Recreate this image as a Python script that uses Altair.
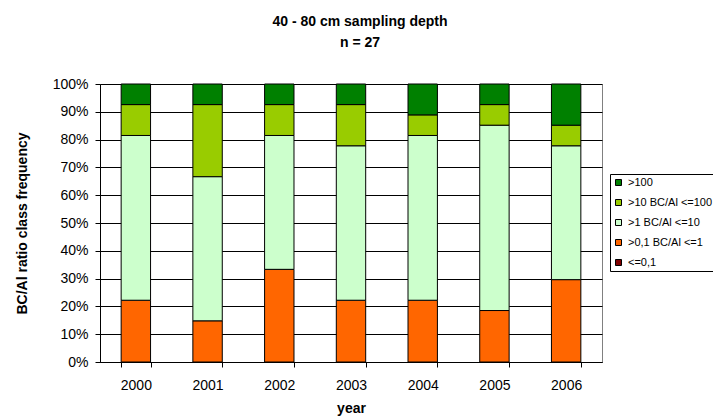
import altair as alt
import pandas as pd

years = ["2000", "2001", "2002", "2003", "2004", "2005", "2006"]
classes = ["<=0,1", ">0,1 BC/Al <=1", ">1 BC/Al <=10", ">10 BC/Al <=100", ">100"]
class_colors = ["#800000", "#FF6600", "#CCFFCC", "#99CC00", "#008000"]

# number of sites (n = 27) per class and year
n_le_0_1 = [0, 0, 0, 0, 0, 0, 0]
n_0_1_to_1 = [6, 4, 9, 6, 6, 5, 8]
n_1_to_10 = [16, 14, 13, 15, 16, 18, 13]
n_10_to_100 = [3, 7, 3, 4, 2, 2, 2]
n_gt_100 = [2, 2, 2, 2, 3, 2, 4]

series = [n_le_0_1, n_0_1_to_1, n_1_to_10, n_10_to_100, n_gt_100]
rows = []
for ci, (cls, vals) in enumerate(zip(classes, series)):
    for y, v in zip(years, vals):
        if v > 0:
            rows.append({"year": y, "cls": cls, "idx": ci, "count": v})
df = pd.DataFrame(rows)

legend_order = classes[::-1]
legend_colors = class_colors[::-1]

FONT = "Liberation Sans"

chart = alt.Chart(df).mark_bar(stroke="black", strokeWidth=1).encode(
    x=alt.X(
        "year:N",
        title="year",
        sort=years,
        scale=alt.Scale(paddingInner=0.59, paddingOuter=0.295),
        axis=alt.Axis(
            labelAngle=0, tickBand="extent", grid=False, tickSize=5,
            labelPadding=22, labelBaseline="alphabetic", labelFontSize=14,
            titleY=50, titleBaseline="alphabetic",
        ),
    ),
    y=alt.Y(
        "count:Q",
        stack="normalize",
        title="BC/Al ratio class frequency",
        scale=alt.Scale(domain=[0, 1]),
        axis=alt.Axis(
            format=".0%", values=[i / 10 for i in range(11)], tickSize=5,
            labelPadding=7, labelFontSize=14, grid=True, gridColor="#000000",
            gridWidth=1, titleX=-74, titleY=139, titleBaseline="alphabetic",
        ),
    ),
    color=alt.Color(
        "cls:N",
        scale=alt.Scale(domain=legend_order, range=legend_colors),
        legend=alt.Legend(
            title=None, orient="none", legendX=510, legendY=90, padding=3,
            strokeColor="black", fillColor="white", symbolType="square",
            symbolSize=36, symbolStrokeColor="black", symbolStrokeWidth=1,
            labelFontSize=11, labelFont=FONT, labelOffset=4, rowPadding=8,
            labelLimit=300, labelColor="black",
        ),
    ),
    order=alt.Order("idx:Q", sort="ascending"),
).properties(
    width=502,
    height=278,
    title=alt.Title(
        ["40 - 80 cm sampling depth", "n = 27"],
        fontSize=14, font=FONT, fontWeight="bold", lineHeight=21.5,
        anchor="middle", dx=9, offset=27, color="black",
    ),
    autosize="none",
    padding={"left": 92, "top": 76, "right": 111, "bottom": 56},
).configure_view(
    stroke="#808080", strokeWidth=1
).configure_axis(
    labelFont=FONT, titleFont=FONT, titleFontSize=14, titleFontWeight="bold",
    labelColor="black", titleColor="black", domainColor="black",
    tickColor="black", domainWidth=1, tickWidth=1,
)

chart.save("out.html", embed_options={"renderer": "svg", "actions": False})
